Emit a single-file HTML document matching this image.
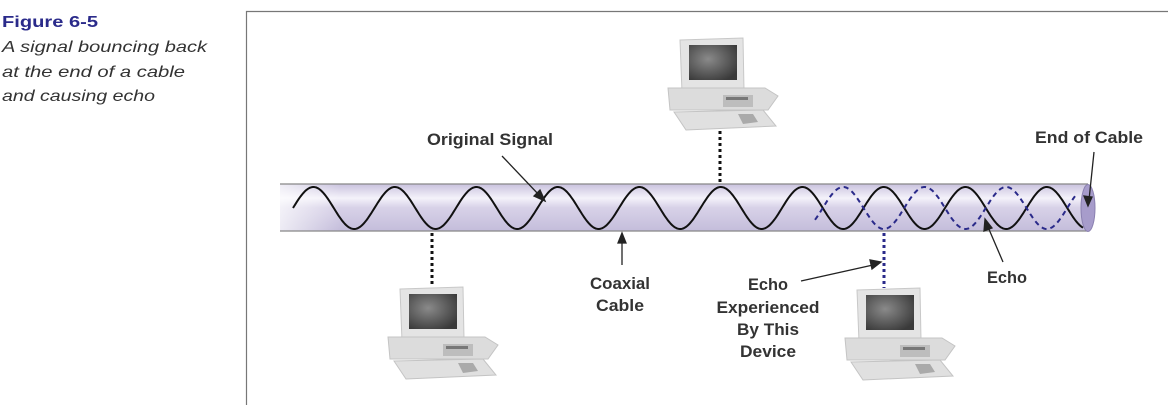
<!DOCTYPE html>
<html><head><style>
body{margin:0;background:#fff;}
svg{display:block;}
text{font-family:"Liberation Sans","DejaVu Sans",sans-serif;}
</style></head><body>
<svg width="1168" height="405" viewBox="0 0 1168 405" xmlns="http://www.w3.org/2000/svg">
<defs>
<linearGradient id="cab" x1="0" y1="0" x2="1" y2="0">
<stop offset="0" stop-color="#ffffff"/><stop offset="1" stop-color="#ffffff" stop-opacity="0"/>
</linearGradient>
<linearGradient id="shine" x1="0" y1="0" x2="0" y2="1">
<stop offset="0" stop-color="#c9c2de"/><stop offset="0.3" stop-color="#f4f2fa"/><stop offset="0.5" stop-color="#d8d2e8"/><stop offset="1" stop-color="#c4bddb"/>
</linearGradient>
<radialGradient id="scr" cx="0.4" cy="0.4" r="0.7"><stop offset="0" stop-color="#8a8a8a"/><stop offset="1" stop-color="#3a3a3a"/></radialGradient>
<g id="pc">
<path d="M12 2 L75 0 L76 52 L14 54 Z" fill="#e4e4e4" stroke="#c8c8c8"/>
<rect x="21" y="7" width="48" height="35" fill="url(#scr)"/>
<path d="M0 50 L97 50 L110 58 L100 72 L2 72 Z" fill="#dcdcdc" stroke="#c4c4c4"/>
<rect x="55" y="57" width="30" height="12" fill="#bdbdbd"/>
<rect x="58" y="59" width="22" height="3" fill="#777"/>
<path d="M6 74 L95 72 L108 88 L18 92 Z" fill="#e0e0e0" stroke="#c4c4c4"/>
<path d="M70 76 L85 76 L90 84 L75 86Z" fill="#aaa"/>
</g>
</defs>
<path d="M246.5 405 L246.5 11.5 L1168 11.5" fill="none" stroke="#777" stroke-width="1.2"/>
<text x="2" y="27" font-size="16" font-weight="bold" fill="#2a2a8a" textLength="96" lengthAdjust="spacingAndGlyphs">Figure 6-5</text>
<g font-size="16" font-style="italic" fill="#333">
<text x="2" y="52" textLength="205" lengthAdjust="spacingAndGlyphs">A signal bouncing back</text>
<text x="2" y="77" textLength="183" lengthAdjust="spacingAndGlyphs">at the end of a cable</text>
<text x="2" y="101" textLength="153" lengthAdjust="spacingAndGlyphs">and causing echo</text>
</g>
<rect x="280" y="184" width="808" height="47" fill="url(#shine)"/>
<rect x="280" y="184" width="60" height="47" fill="url(#cab)" opacity="0.7"/>
<line x1="280" y1="184" x2="1088" y2="184" stroke="#888" stroke-width="1.2"/>
<line x1="280" y1="231" x2="1088" y2="231" stroke="#888" stroke-width="1.2"/>
<ellipse cx="1088" cy="208" rx="7" ry="23.5" fill="#a79ccb" stroke="#8a80b0"/>
<path id="sig" fill="none" stroke="#111" stroke-width="2" d=""/>
<path id="echo" fill="none" stroke="#2a2a8a" stroke-width="2" stroke-dasharray="5,4" d=""/>
<script>
(function(){
var P=81.5,x0=293,cy=208,A=21,d='';
for(var x=x0;x<=1083;x+=1){var y=cy-A*Math.sin(2*Math.PI*(x-x0)/P);d+=(x==x0?'M':'L')+x+' '+y.toFixed(1);}
document.getElementById('sig').setAttribute('d',d);
d='';
for(var x=815;x<=1075;x+=1){var y=cy+A*Math.sin(2*Math.PI*(x-x0)/P);d+=(x==815?'M':'L')+x+' '+y.toFixed(1);}
document.getElementById('echo').setAttribute('d',d);
})();
</script>
<line x1="720" y1="131" x2="720" y2="183" stroke="#111" stroke-width="3" stroke-dasharray="3,3"/>
<line x1="432" y1="233" x2="432" y2="287" stroke="#111" stroke-width="3" stroke-dasharray="3,3"/>
<line x1="884" y1="233" x2="884" y2="288" stroke="#2a2a8a" stroke-width="3" stroke-dasharray="3,3"/>
<use href="#pc" x="668" y="38"/>
<use href="#pc" x="388" y="287"/>
<use href="#pc" x="845" y="288"/>
<g font-size="17" fill="#333" font-weight="bold" style="font-weight:600">
<text x="427" y="145" textLength="126" lengthAdjust="spacingAndGlyphs">Original Signal</text>
<text x="620" y="289" text-anchor="middle" textLength="60" lengthAdjust="spacingAndGlyphs">Coaxial</text>
<text x="620" y="311" text-anchor="middle" textLength="48" lengthAdjust="spacingAndGlyphs">Cable</text>
<text x="768" y="290" text-anchor="middle" textLength="40" lengthAdjust="spacingAndGlyphs">Echo</text>
<text x="768" y="313" text-anchor="middle" textLength="103" lengthAdjust="spacingAndGlyphs">Experienced</text>
<text x="768" y="335" text-anchor="middle" textLength="62" lengthAdjust="spacingAndGlyphs">By This</text>
<text x="768" y="357" text-anchor="middle" textLength="56" lengthAdjust="spacingAndGlyphs">Device</text>
<text x="1007" y="283" text-anchor="middle" textLength="40" lengthAdjust="spacingAndGlyphs">Echo</text>
<text x="1035" y="143" textLength="108" lengthAdjust="spacingAndGlyphs">End of Cable</text>
</g>
<g stroke="#222" stroke-width="1.3" fill="#222">
<line x1="502" y1="156" x2="540" y2="196"/><path d="M545 201 L534 196 L540 190Z"/>
<line x1="622" y1="265" x2="622" y2="240"/><path d="M622 233 L618 243 L626 243Z"/>
<line x1="801" y1="281" x2="873" y2="265"/><path d="M881 262 L870 260 L872 269Z"/>
<line x1="1003" y1="262" x2="988" y2="227"/><path d="M985 219 L984 231 L992 228Z"/>
<line x1="1094" y1="152" x2="1089" y2="200"/><path d="M1088 206 L1084 196 L1092 197Z"/>
</g>
</svg>
</body></html>
